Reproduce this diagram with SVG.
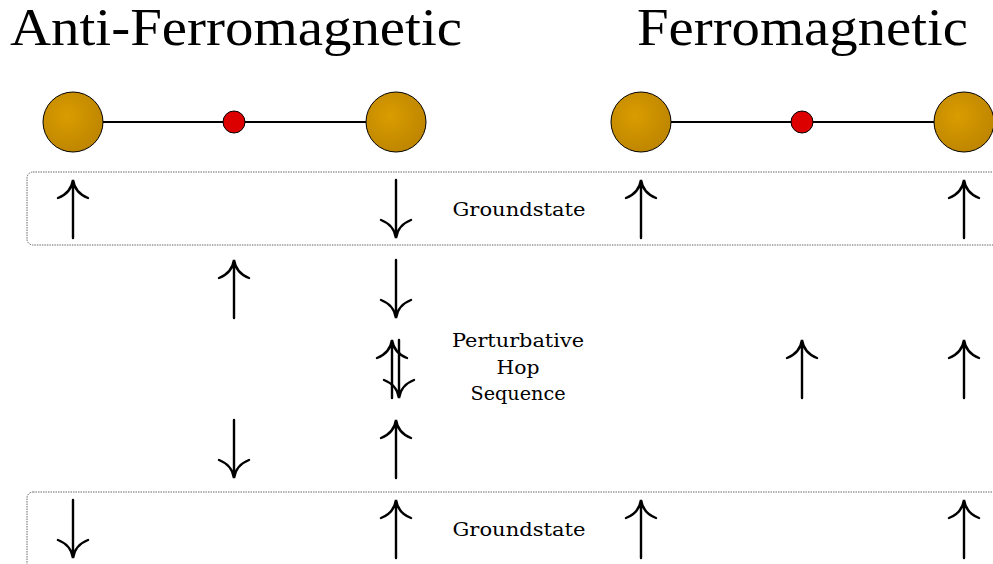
<svg xmlns="http://www.w3.org/2000/svg" width="993" height="564" viewBox="0 0 993 564">
<style>
.title{font-family:"Liberation Serif","Times New Roman",serif;font-size:52px;fill:#000}
.lbl{font-family:"DejaVu Serif",serif;font-size:19px;fill:#000;text-anchor:middle}
.atom{stroke:#000;stroke-width:1}
.bond{stroke:#000;stroke-width:2.2;fill:none}
.box{fill:none;stroke:#666;stroke-width:1;stroke-dasharray:1.5 1}
.spin{fill:none;stroke:#000;stroke-width:2.4;stroke-linecap:round}
</style>
<defs>
<radialGradient id="gold" cx="0.4" cy="0.4" r="0.65">
<stop offset="0" stop-color="#da9c00"/>
<stop offset="1" stop-color="#bd8500"/>
</radialGradient>
<g id="up"><path class="spin" d="M0,1 L0,58 M-15,18 Q-2,13 0,0 Q2,13 15,18"/></g>
<g id="down"><path class="spin" d="M0,0 L0,57 M-15,40 Q-2,45 0,58 Q2,45 15,40"/></g>
</defs>
<rect width="993" height="564" fill="#fff"/>
<text class="title" x="10" y="45" textLength="452" lengthAdjust="spacingAndGlyphs">Anti-Ferromagnetic</text>
<text class="title" x="637" y="45" textLength="331" lengthAdjust="spacingAndGlyphs">Ferromagnetic</text>
<g id="connectors">
<line class="bond" x1="103" y1="122" x2="366" y2="122"/>
<line class="bond" x1="671" y1="122" x2="934" y2="122"/>
</g>
<g id="af-atom1"><circle class="atom" cx="73" cy="122" r="30" fill="url(#gold)"/></g>
<g id="af-ligand"><circle class="atom" cx="234" cy="122" r="11" fill="#dd0000"/></g>
<g id="af-atom2"><circle class="atom" cx="396" cy="122" r="30" fill="url(#gold)"/></g>
<g id="fm-atom1"><circle class="atom" cx="641" cy="122" r="30" fill="url(#gold)"/></g>
<g id="fm-ligand"><circle class="atom" cx="802" cy="122" r="11" fill="#dd0000"/></g>
<g id="fm-atom2"><circle class="atom" cx="964" cy="122" r="30" fill="url(#gold)"/></g>
<g id="groundstate-top">
<rect class="box" x="27" y="172" width="990" height="73" rx="6"/>
<text class="lbl" x="519" y="216" textLength="133" lengthAdjust="spacingAndGlyphs">Groundstate</text>
</g>
<g id="groundstate-bottom">
<rect class="box" x="27" y="492" width="990" height="90" rx="6"/>
<text class="lbl" x="519" y="536" textLength="133" lengthAdjust="spacingAndGlyphs">Groundstate</text>
</g>
<g id="hop-label">
<text class="lbl" x="518" y="347" textLength="132" lengthAdjust="spacingAndGlyphs">Perturbative</text>
<text class="lbl" x="518" y="374" textLength="43" lengthAdjust="spacingAndGlyphs">Hop</text>
<text class="lbl" x="518" y="400" textLength="95" lengthAdjust="spacingAndGlyphs">Sequence</text>
</g>
<g id="spins">
<use href="#up" x="73" y="180"/>
<use href="#down" x="396" y="180"/>
<use href="#up" x="641" y="180"/>
<use href="#up" x="964" y="180"/>
<use href="#up" x="234" y="260"/>
<use href="#down" x="396" y="260"/>
<use href="#up" x="392" y="340"/>
<use href="#down" x="399" y="340"/>
<use href="#up" x="802" y="340"/>
<use href="#up" x="964" y="340"/>
<use href="#down" x="234" y="420"/>
<use href="#up" x="396" y="420"/>
<use href="#down" x="73" y="500"/>
<use href="#up" x="396" y="500"/>
<use href="#up" x="641" y="500"/>
<use href="#up" x="964" y="500"/>
</g>
</svg>
